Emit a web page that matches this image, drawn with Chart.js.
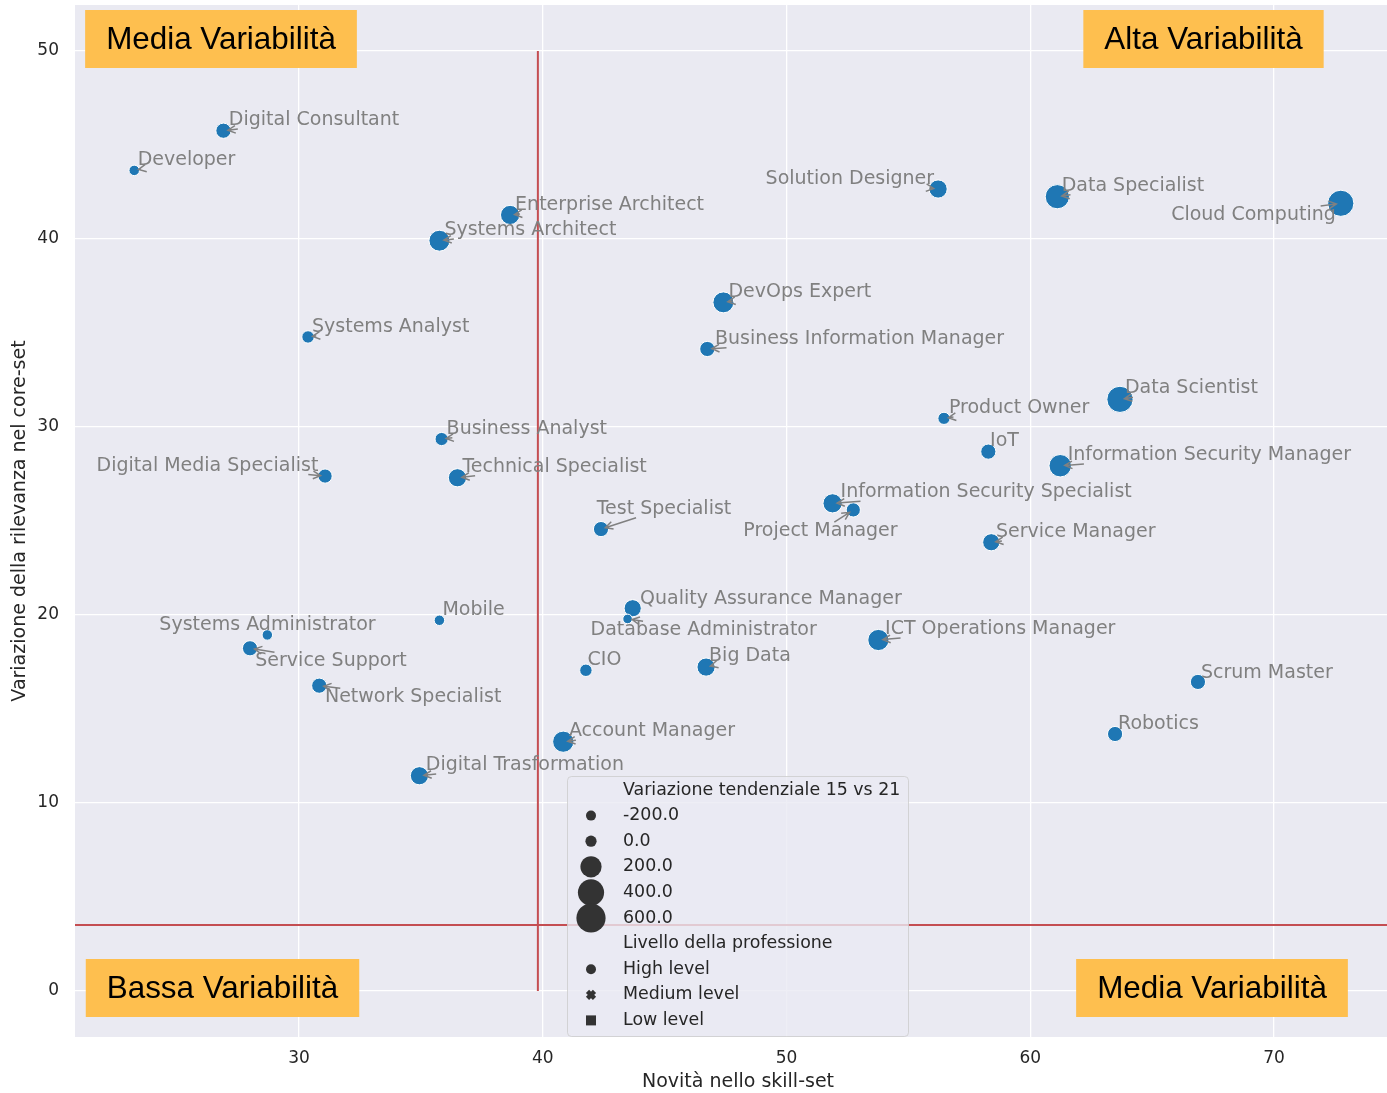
<!DOCTYPE html>
<html>
<head>
<meta charset="utf-8">
<script src="https://cdn.jsdelivr.net/npm/chart.js@4.4.0/dist/chart.umd.min.js"></script>
<style>
  html, body { margin: 0; padding: 0; background: #fff; overflow: hidden; }
  #wrap { width: 1387px; height: 1093px; overflow: hidden; }
  canvas { display: block; }
</style>
</head>
<body>
<div id="wrap"><canvas id="chart" width="1401" height="1093"></canvas></div>
<script>
// --- data ---
const professions = [
  'Digital Consultant', 'Developer', 'Enterprise Architect', 'Systems Architect',
  'Systems Analyst', 'Business Analyst', 'Digital Media Specialist', 'Technical Specialist',
  'Test Specialist', 'Mobile', 'Systems Administrator', 'Service Support',
  'Network Specialist', 'Digital Trasformation', 'Account Manager', 'CIO',
  'Quality Assurance Manager', 'Database Administrator', 'Big Data', 'ICT Operations Manager',
  'Solution Designer', 'Data Specialist', 'Cloud Computing', 'DevOps Expert',
  'Business Information Manager', 'Data Scientist', 'Product Owner', 'IoT',
  'Information Security Manager', 'Information Security Specialist', 'Project Manager', 'Service Manager',
  'Scrum Master', 'Robotics'
];
// Novità nello skill-set
const novelty = [
  26.90, 23.24, 38.66, 35.76,
  30.37, 35.85, 31.07, 36.50,
  42.39, 35.76, 28.70, 27.99,
  30.83, 34.94, 40.84, 41.77,
  43.69, 43.48, 46.70, 53.77,
  56.22, 61.11, 72.74, 47.41,
  46.75, 63.68, 56.46, 58.28,
  61.23, 51.89, 52.74, 58.40,
  66.88, 63.48
];
// Variazione della rilevanza nel core-set
const relevance = [
  45.76, 43.65, 41.28, 39.91,
  34.79, 29.36, 27.39, 27.30,
  24.57, 19.72, 18.94, 18.23,
  16.24, 11.45, 13.26, 17.06,
  20.36, 19.79, 17.23, 18.67,
  42.66, 42.25, 41.90, 36.63,
  34.15, 31.47, 30.46, 28.69,
  27.94, 25.94, 25.59, 23.87,
  16.44, 13.67
];
// Variazione tendenziale 15 vs 21 (bubble size)
const variation = [
  80, -70, 160, 195,
  25, 40, 60, 140,
  80, -70, -70, 80,
  80, 140, 200, 25,
  120, -160, 140, 200,
  140, 320, 400, 195,
  80, 400, 20, 80,
  250, 160, 60, 120,
  80, 80
];
const levels = professions.map(() => 'High level');

const xTicks = [30, 40, 50, 60, 70];
const yTicks = [0, 10, 20, 30, 40, 50];
const xRange = [20.81, 75.21];
const yRange = [-2.447, 52.447];
const thresholdX = 39.8;
const thresholdY = 3.51;
const vLineSpan = [0, 50];

const sizeLegendValues = [-200, 0, 200, 400, 600];
const levelLegendNames = ['High level', 'Medium level', 'Low level'];
const sizeLegendTitle = 'Variazione tendenziale 15 vs 21';
const levelLegendTitle = 'Livello della professione';
const quadrantNames = ['Media Variabilità', 'Alta Variabilità', 'Bassa Variabilità', 'Media Variabilità'];

// --- layout / style ---
const BG = '#EAEAF2';
const BLUE = '#1f77b4';
const RED = '#C44E52';
const TEXT = '#262626';
const LABEL_GRAY = '#808080';
const BOX_ORANGE = '#FEBF4F';

// size mapping (value -> radius in px)
const sizeKnots = [[-200, 4.6], [0, 5.6], [200, 10.6], [400, 13.1], [600, 14.6]];
function radiusFor(v) {
  if (v <= sizeKnots[0][0]) return sizeKnots[0][1];
  for (let i = 1; i < sizeKnots.length; i++) {
    const [v1, r1] = sizeKnots[i];
    const [v0, r0] = sizeKnots[i - 1];
    if (v <= v1) return r0 + (r1 - r0) * (v - v0) / (v1 - v0);
  }
  return sizeKnots[sizeKnots.length - 1][1];
}
const levelStyle = { 'High level': 'circle', 'Medium level': 'crossRot', 'Low level': 'rect' };

// label placement relative to each point: [dx, dy, align]
const labelOffsets = [
  [5.4, -12.7, 'left'], [3.4, -12.3, 'left'], [5, -12, 'left'], [5, -12.7, 'left'],
  [4, -12, 'left'], [5, -12.3, 'left'], [-6.7, -12.5, 'right'], [5, -13, 'left'],
  [-4.3, -22.3, 'left'], [3, -12.3, 'left'], [0.2, -11.7, 'center'], [5.3, 10.9, 'left'],
  [5.7, 9.6, 'left'], [6.4, -12.7, 'left'], [5.7, -12.5, 'left'], [1.7, -12.3, 'left'],
  [7.3, -11.3, 'left'], [-37, 9.3, 'left'], [3, -13, 'left'], [6.7, -13, 'left'],
  [-4, -12, 'right'], [4.4, -12.9, 'left'], [-5, 9.7, 'right'], [5, -12.3, 'left'],
  [7.7, -12.3, 'left'], [5, -13, 'left'], [5, -12.3, 'left'], [1.7, -12.4, 'left'],
  [7.4, -12.7, 'left'], [8, -13, 'left'], [-110, 19.3, 'left'], [4.7, -12.3, 'left'],
  [3, -11, 'left'], [3, -12, 'left']
];
const LABEL_NUDGE = 2; // text middle vs. measured cap centre
// quadrant box centres in canvas px
const quadrantCenters = [[221, 39], [1203.5, 39], [222.5, 988], [1212, 988]];

const points = professions.map((name, i) => ({ x: novelty[i], y: relevance[i] }));

const areaBg = {
  id: 'areaBg',
  beforeDraw(chart) {
    const { ctx, chartArea: a } = chart;
    ctx.save();
    ctx.fillStyle = BG;
    ctx.fillRect(a.left, a.top, a.right - a.left, a.bottom - a.top);
    ctx.restore();
  }
};

function drawArrow(ctx, sx, sy, ex, ey) {
  const len = Math.hypot(ex - sx, ey - sy);
  const ux = (ex - sx) / len, uy = (ey - sy) / len;
  const hl = 7.5, hw = 3.8;
  ctx.beginPath();
  ctx.moveTo(sx, sy);
  ctx.lineTo(ex, ey);
  ctx.moveTo(ex - ux * hl - uy * hw, ey - uy * hl + ux * hw);
  ctx.lineTo(ex, ey);
  ctx.lineTo(ex - ux * hl + uy * hw, ey - uy * hl - ux * hw);
  ctx.stroke();
}

const pointLabels = {
  id: 'pointLabels',
  afterDatasetsDraw(chart) {
    const { ctx, scales: { x, y } } = chart;
    ctx.save();
    ctx.font = '19px "DejaVu Sans"';
    ctx.textBaseline = 'middle';
    ctx.strokeStyle = LABEL_GRAY;
    ctx.fillStyle = LABEL_GRAY;
    ctx.lineWidth = 1.5;
    professions.forEach((name, i) => {
      const px = x.getPixelForValue(novelty[i]);
      const py = y.getPixelForValue(relevance[i]);
      const [dx, dy, align] = labelOffsets[i];
      const w = ctx.measureText(name).width;
      let left = px + dx;
      if (align === 'right') left -= w;
      if (align === 'center') left -= w / 2;
      const ty = py + dy + LABEL_NUDGE;
      // arrow from text box towards the point
      const cx = left + w / 2, cy = ty;
      const vx = px - cx, vy = py - cy;
      const len = Math.hypot(vx, vy);
      const tx = vx !== 0 ? (w / 2 + 2) / Math.abs(vx) : Infinity;
      const tyy = vy !== 0 ? 9 / Math.abs(vy) : Infinity;
      const t = Math.min(tx, tyy);
      if (t < 1 && (1 - t) * len > 6) {
        const sx = cx + vx * t, sy = cy + vy * t;
        const ex = px - vx / len * 4.5, ey = py - vy / len * 4.5;
        drawArrow(ctx, sx, sy, ex, ey);
      }
      ctx.fillText(name, left, ty);
    });
    ctx.restore();
  }
};

function drawMarker(ctx, style, x, y, r) {
  ctx.beginPath();
  if (style === 'circle') {
    ctx.arc(x, y, r, 0, Math.PI * 2);
    ctx.fill();
  } else if (style === 'rect') {
    ctx.fillRect(x - r, y - r, 2 * r, 2 * r);
  } else {
    ctx.save();
    ctx.lineWidth = r * 0.9;
    ctx.strokeStyle = ctx.fillStyle;
    ctx.moveTo(x - r * 0.7, y - r * 0.7); ctx.lineTo(x + r * 0.7, y + r * 0.7);
    ctx.moveTo(x + r * 0.7, y - r * 0.7); ctx.lineTo(x - r * 0.7, y + r * 0.7);
    ctx.stroke();
    ctx.restore();
  }
}

const overlays = {
  id: 'overlays',
  afterDraw(chart) {
    const { ctx } = chart;
    ctx.save();
    // quadrant boxes
    ctx.font = '31.4px "Liberation Sans", Arial, sans-serif';
    ctx.textBaseline = 'middle';
    ctx.textAlign = 'center';
    quadrantNames.forEach((txt, i) => {
      const [qx, qy] = quadrantCenters[i];
      const w = ctx.measureText(txt).width + 42;
      ctx.fillStyle = BOX_ORANGE;
      ctx.fillRect(qx - w / 2, qy - 29, w, 58);
      ctx.fillStyle = '#000';
      ctx.fillText(txt, qx, qy + 1);
    });

    // legend
    const lx = 567, ly = 776, lw = 341, lh = 260;
    ctx.beginPath();
    ctx.roundRect(lx + 0.5, ly + 0.5, lw, lh, 4);
    ctx.fillStyle = 'rgba(234,234,242,0.8)';
    ctx.fill();
    ctx.strokeStyle = 'rgba(204,204,204,0.8)';
    ctx.lineWidth = 1;
    ctx.stroke();

    ctx.font = '17.4px "DejaVu Sans"';
    ctx.textAlign = 'left';
    const rows = [];
    rows.push({ text: sizeLegendTitle });
    sizeLegendValues.forEach(v => rows.push({ text: v.toFixed(1), style: 'circle', r: Math.max(5, radiusFor(v)) }));
    rows.push({ text: levelLegendTitle });
    levelLegendNames.forEach(n => rows.push({ text: n, style: levelStyle[n], r: 5 }));
    rows.forEach((row, k) => {
      const ry = 790 + k * 25.6;
      ctx.fillStyle = '#333333';
      if (row.style) drawMarker(ctx, row.style, 591, ry, row.r);
      ctx.fillStyle = TEXT;
      ctx.fillText(row.text, 623, ry);
    });
    ctx.restore();
  }
};

function fixBox(s, key, size) {
  s[key] = size;
  s.paddingTop = 0; s.paddingBottom = 0; s.paddingLeft = 0; s.paddingRight = 0;
}

new Chart(document.getElementById('chart'), {
  type: 'scatter',
  data: {
    datasets: [
      {
        type: 'line',
        data: [{ x: thresholdX, y: vLineSpan[0] }, { x: thresholdX, y: vLineSpan[1] }],
        borderColor: RED, borderWidth: 2, pointRadius: 0, showLine: true, order: 0
      },
      {
        type: 'line',
        data: [{ x: xRange[0], y: thresholdY }, { x: xRange[1], y: thresholdY }],
        borderColor: RED, borderWidth: 2, pointRadius: 0, showLine: true, order: 0
      },
      {
        data: points,
        backgroundColor: BLUE,
        borderColor: '#ffffff',
        borderWidth: 1,
        pointRadius: variation.map(radiusFor),
        pointStyle: levels.map(l => levelStyle[l]),
        order: 1
      }
    ]
  },
  options: {
    responsive: false,
    devicePixelRatio: 1,
    animation: false,
    events: [],
    layout: { autoPadding: false, padding: { top: 5, left: 0, right: 0, bottom: 0 } },
    plugins: { legend: { display: false }, tooltip: { enabled: false } },
    scales: {
      x: {
        type: 'linear',
        min: xRange[0], max: xRange[1],
        afterFit: s => fixBox(s, 'height', 56),
        afterBuildTicks: s => { s.ticks = xTicks.map(v => ({ value: v })); },
        grid: { color: '#ffffff', lineWidth: 1.3, drawTicks: false },
        border: { display: false },
        ticks: { color: TEXT, font: { family: 'DejaVu Sans', size: 17 }, padding: 11 },
        title: {
          display: true, text: 'Novità nello skill-set', color: TEXT,
          font: { family: 'DejaVu Sans', size: 19 }, padding: { top: 0, bottom: 0 }
        }
      },
      y: {
        type: 'linear',
        min: yRange[0], max: yRange[1],
        afterFit: s => fixBox(s, 'width', 75),
        afterBuildTicks: s => { s.ticks = yTicks.map(v => ({ value: v })); },
        grid: { color: '#ffffff', lineWidth: 1.3, drawTicks: false },
        border: { display: false },
        ticks: { color: TEXT, font: { family: 'DejaVu Sans', size: 17 }, padding: 16 },
        title: {
          display: true, text: 'Variazione della rilevanza nel core-set', color: TEXT,
          font: { family: 'DejaVu Sans', size: 19 }, padding: { top: 9, bottom: 0 }
        }
      }
    }
  },
  plugins: [areaBg, pointLabels, overlays]
});
</script>
</body>
</html>
